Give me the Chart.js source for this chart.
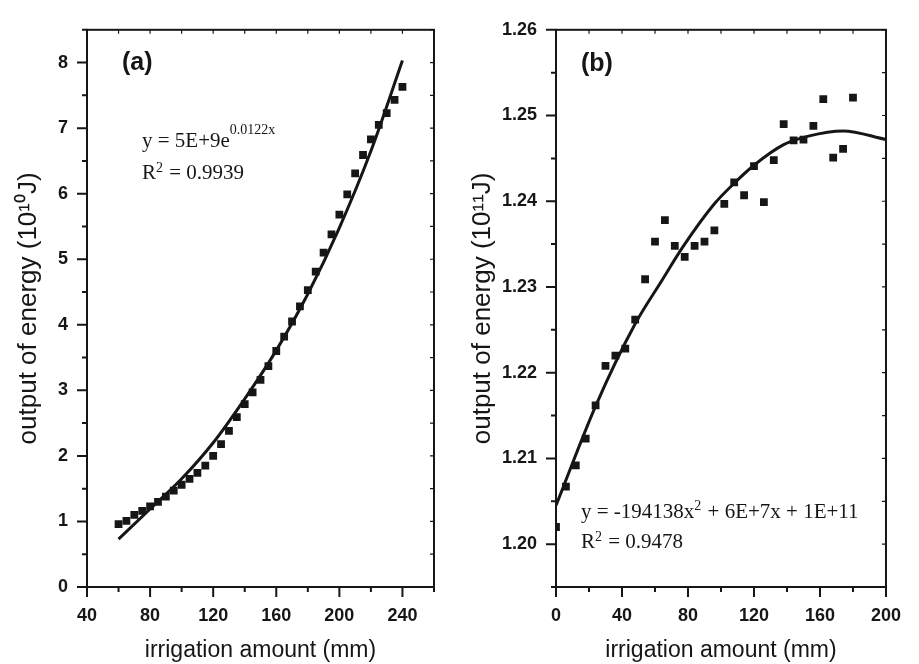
<!DOCTYPE html>
<html>
<head>
<meta charset="utf-8">
<script src="https://cdn.jsdelivr.net/npm/chart.js@4.4.1/dist/chart.umd.min.js"></script>
<style>
  body { margin: 0; background: #fff; }
  #wrap { position: relative; width: 919px; height: 664px; }
  canvas { position: absolute; top: 0; }
  #chartA { left: 0; }
  #chartB { left: 459px; }
</style>
</head>
<body>
<div id="wrap">
  <canvas id="chartA" width="459" height="664"></canvas>
  <canvas id="chartB" width="460" height="664"></canvas>
</div>
<script>
// panel (a): energy output, 10^10 J
const irrigationA = [60, 65, 70, 75, 80, 85, 90, 95, 100, 105, 110, 115, 120, 125, 130, 135, 140, 145, 150,
  155, 160, 165, 170, 175, 180, 185, 190, 195, 200, 205, 210, 215, 220, 225, 230, 235, 240];
const energyA = [0.96, 1.01, 1.10, 1.16, 1.23, 1.30, 1.38, 1.47, 1.56, 1.65, 1.74, 1.85, 2.00, 2.18, 2.38,
  2.59, 2.79, 2.97, 3.16, 3.37, 3.60, 3.82, 4.05, 4.28, 4.53, 4.81, 5.10, 5.38, 5.68, 5.99, 6.31, 6.59,
  6.83, 7.05, 7.23, 7.43, 7.63];
const fitXA = [60, 80, 100, 120, 140, 160, 180, 200, 220, 240];
const fitYA = [0.73, 1.19, 1.65, 2.20, 2.87, 3.61, 4.47, 5.48, 6.65, 8.03];

// panel (b): energy output, 10^11 J
const irrigationB = [0, 6, 12, 18, 24, 30, 36, 42, 48, 54, 60, 66, 72, 78, 84, 90, 96, 102, 108, 114, 120,
  126, 132, 138, 144, 150, 156, 162, 168, 174, 180];
const energyB = [1.2020, 1.2067, 1.2092, 1.2123, 1.2162, 1.2208, 1.2220, 1.2228, 1.2262, 1.2309, 1.2353,
  1.2378, 1.2348, 1.2335, 1.2348, 1.2353, 1.2366, 1.2397, 1.2422, 1.2407, 1.2441, 1.2399, 1.2448, 1.2490,
  1.2471, 1.2472, 1.2488, 1.2519, 1.2451, 1.2461, 1.2521];
const fitXB = [0, 24, 48, 64, 77, 96, 108, 120, 138, 153, 174, 200];
const fitYB = [1.2045, 1.2161, 1.2257, 1.2307, 1.2347, 1.2397, 1.2421, 1.2442, 1.2466, 1.2476, 1.2482, 1.2472];

// tick values
const xTicksA = [40, 80, 120, 160, 200, 240];
const xMinorA = [60, 100, 140, 180, 220, 260];
const yTicksA = [0, 1, 2, 3, 4, 5, 6, 7, 8];
const yMinorA = [0.5, 1.5, 2.5, 3.5, 4.5, 5.5, 6.5, 7.5, 8.5];
const xTicksB = [0, 40, 80, 120, 160, 200];
const xMinorB = [20, 60, 100, 140, 180];
const yTicksB = [1.20, 1.21, 1.22, 1.23, 1.24, 1.25, 1.26];
const yMinorB = [1.195, 1.205, 1.215, 1.225, 1.235, 1.245, 1.255];

const INK = '#161616';
const SANS = "'Liberation Sans', Arial, sans-serif";
const SERIF = "'Liberation Serif', 'Times New Roman', serif";

//frame box with outward ticks bottom/left and small inward ticks top/right
const frameTicks = {
  id: 'frameTicks',
  afterDatasetsDraw(chart, args, o) {
    const { ctx, chartArea: a } = chart;
    const x = chart.scales.x;
    const y = chart.scales.y;
    ctx.save();
    ctx.strokeStyle = INK;
    ctx.lineWidth = 2;
    ctx.strokeRect(a.left, a.top, a.right - a.left, a.bottom - a.top);
    ctx.beginPath();
    o.xMajor.forEach((v) => { const p = x.getPixelForValue(v); ctx.moveTo(p, a.bottom); ctx.lineTo(p, a.bottom + 10); });
    o.xMinor.forEach((v) => { const p = x.getPixelForValue(v); ctx.moveTo(p, a.bottom); ctx.lineTo(p, a.bottom + 5); });
    o.yMajor.forEach((v) => { const p = y.getPixelForValue(v); ctx.moveTo(a.left, p); ctx.lineTo(a.left - 10, p); });
    o.yMinor.forEach((v) => { const p = y.getPixelForValue(v); ctx.moveTo(a.left, p); ctx.lineTo(a.left - 5, p); });
    ctx.stroke();
    ctx.lineWidth = 1.2;
    ctx.beginPath();
    o.xMajor.concat(o.xMinor).forEach((v) => { const p = x.getPixelForValue(v); ctx.moveTo(p, a.top); ctx.lineTo(p, a.top + 4); });
    o.yMajor.concat(o.yMinor).forEach((v) => { const p = y.getPixelForValue(v); ctx.moveTo(a.right, p); ctx.lineTo(a.right - 4, p); });
    ctx.stroke();
    ctx.restore();
  },
};

//panel letter and fitted equation
const notes = {
  id: 'notes',
  afterDraw(chart, args, o) {
    const { ctx, chartArea: a } = chart;
    ctx.save();
    ctx.fillStyle = INK;
    ctx.textBaseline = 'alphabetic';
    ctx.font = `bold 25px ${SANS}`;
    ctx.fillText(o.tag, a.left + o.tagDx, a.top + o.tagDy);
    o.lines.forEach((runs, i) => {
      let cx = a.left + o.eqDx;
      const base = a.top + o.eqDy + i * o.lineGap;
      runs.forEach((r) => {
        ctx.font = r.rise ? `14px ${SERIF}` : `21px ${SERIF}`;
        ctx.fillText(r.t, cx, base - (r.rise || 0));
        cx += ctx.measureText(r.t).width + (r.rise ? 1 : 0);
      });
    });
    ctx.restore();
  },
};

const makePanel = (id, cfg) => {
  const fitData = cfg.fitX.map((v, i) => ({ x: v, y: cfg.fitY[i] }));
  const pts = cfg.xs.map((v, i) => ({ x: v, y: cfg.ys[i] }));
  return new Chart(document.getElementById(id), {
    type: 'scatter',
    data: {
      datasets: [
        {
          type: 'line',
          data: fitData,
          showLine: true,
          borderColor: INK,
          borderWidth: 3,
          pointRadius: 0,
          cubicInterpolationMode: 'monotone',
          fill: false,
          clip: 0,
          order: 1,
        },
        {
          data: pts,
          pointStyle: 'rect',
          pointRadius: 5.5,
          backgroundColor: INK,
          borderWidth: 0,
          clip: 0,
          order: 2,
        },
      ],
    },
    options: {
      responsive: false,
      animation: false,
      devicePixelRatio: 1,
      layout: { padding: { top: 20, right: cfg.padRight, bottom: 0, left: 0 } },
      plugins: {
        legend: { display: false },
        tooltip: { enabled: false },
        frameTicks: { xMajor: cfg.xTicks, xMinor: cfg.xMinor, yMajor: cfg.yTicks, yMinor: cfg.yMinor },
        notes: cfg.notes,
      },
      scales: {
        x: {
          type: 'linear',
          min: cfg.xMin,
          max: cfg.xMax,
          afterFit: (s) => { s.height = 77; },
          afterBuildTicks: (s) => { s.ticks = cfg.xTicks.map((v) => ({ value: v })); },
          grid: { display: false, drawTicks: false },
          border: { display: false },
          ticks: { font: { family: SANS, size: 18, weight: 'bold' }, color: INK, padding: 18, maxRotation: 0, autoSkip: false },
          title: { display: true, text: 'irrigation amount (mm)', font: { family: SANS, size: 23 }, color: INK, padding: 0 },
        },
        y: {
          type: 'linear',
          min: cfg.yMin,
          max: cfg.yMax,
          afterFit: (s) => { s.width = cfg.yWidth; },
          afterBuildTicks: (s) => { s.ticks = cfg.yTicks.map((v) => ({ value: v })); },
          grid: { display: false, drawTicks: false },
          border: { display: false },
          ticks: { font: { family: SANS, size: 18, weight: 'bold' }, color: INK, padding: 19, autoSkip: false, callback: cfg.yFmt },
          title: { display: true, text: cfg.yTitle, font: { family: SANS, size: 26 }, color: INK, padding: cfg.yTitlePad },
        },
      },
    },
    plugins: [frameTicks, notes],
  });
};

makePanel('chartA', {
  xs: irrigationA, ys: energyA, fitX: fitXA, fitY: fitYA,
  xMin: 40, xMax: 260, yMin: 0, yMax: 8.5,
  xTicks: xTicksA, xMinor: xMinorA, yTicks: yTicksA, yMinor: yMinorA,
  padRight: 25, yWidth: 87, yTitlePad: 13,
  yTitle: 'output of energy (10\u00b9\u2070J)',
  yFmt: (v) => String(v),
  notes: {
    tag: '(a)', tagDx: 35, tagDy: 40, eqDx: 55, eqDy: 117, lineGap: 32,
    lines: [
      [{ t: 'y = 5E+9e' }, { t: '0.0122x', rise: 13 }],
      [{ t: 'R' }, { t: '2', rise: 7 }, { t: ' = 0.9939' }],
    ],
  },
});

makePanel('chartB', {
  xs: irrigationB, ys: energyB, fitX: fitXB, fitY: fitYB,
  xMin: 0, xMax: 200, yMin: 1.195, yMax: 1.26,
  xTicks: xTicksB, xMinor: xMinorB, yTicks: yTicksB, yMinor: yMinorB,
  padRight: 16, yWidth: 97, yTitlePad: 8,
  yTitle: 'output of energy (10\u00b9\u00b9J)',
  yFmt: (v) => v.toFixed(2),
  notes: {
    tag: '(b)', tagDx: 25, tagDy: 41, eqDx: 25, eqDy: 488, lineGap: 30,
    lines: [
      [{ t: 'y = -194138x' }, { t: '2', rise: 8 }, { t: ' + 6E+7x + 1E+11' }],
      [{ t: 'R' }, { t: '2', rise: 7 }, { t: ' = 0.9478' }],
    ],
  },
});
</script>
</body>
</html>
